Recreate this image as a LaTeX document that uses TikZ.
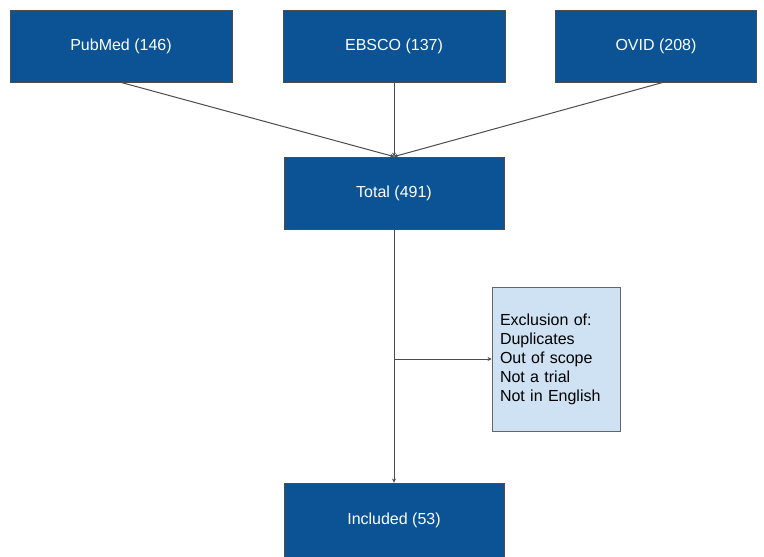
\documentclass[tikz,border=0pt]{standalone}
\usepackage{fontspec}
\setmainfont{Liberation Sans}
\usepackage{xcolor}
\usetikzlibrary{arrows.meta,positioning,calc}
\definecolor{dbox}{HTML}{0B5394}
\definecolor{lbox}{HTML}{CFE2F3}
\tikzset{
  src/.style={rectangle, draw=black!70, line width=0.8pt, fill=dbox,
    text=white, align=center, minimum width=222pt, minimum height=72pt,
    font=\fontsize{16}{19}\selectfont, inner sep=0pt},
  excl/.style={rectangle, draw=black!60, line width=0.8pt, fill=lbox,
    align=left, text width=112pt, minimum height=144pt, inner sep=8pt,
    font=\fontsize{16}{19}\selectfont},
  tr/.style={-{Stealth[length=4pt,width=4pt]}, draw=black!70, line width=1pt},
}
\begin{document}
\begin{tikzpicture}[x=1pt,y=-1pt]
  \useasboundingbox (0,0) rectangle (764,557);
  \node[src] (pubmed) at (121,46) {PubMed (146)};
  \node[src] (ebsco) at (394,46) {EBSCO (137)};
  \node[src, minimum width=201pt] (ovid) at (656,46) {OVID (208)};
  \node[src, minimum width=220pt] (total) at (394,193) {Total (491)};
  \node[excl] (exclusion) at (556,359) {Exclusion of:\\Duplicates\\Out of scope\\Not a trial\\Not in English};
  \node[src, minimum width=220pt, minimum height=74pt] (included) at (394,520) {Included (53)};
  \coordinate (split) at (total.south |- exclusion.west);
  \draw[tr] (pubmed.south) -- (total.north);
  \draw[tr] (ebsco.south) -- (total.north);
  \draw[tr] ($(ovid.south)+(7,0)$) -- (total.north);
  \draw[tr] (total.south) -- (included.north);
  \draw[tr] (split) -- (exclusion.west);
\end{tikzpicture}
\end{document}
